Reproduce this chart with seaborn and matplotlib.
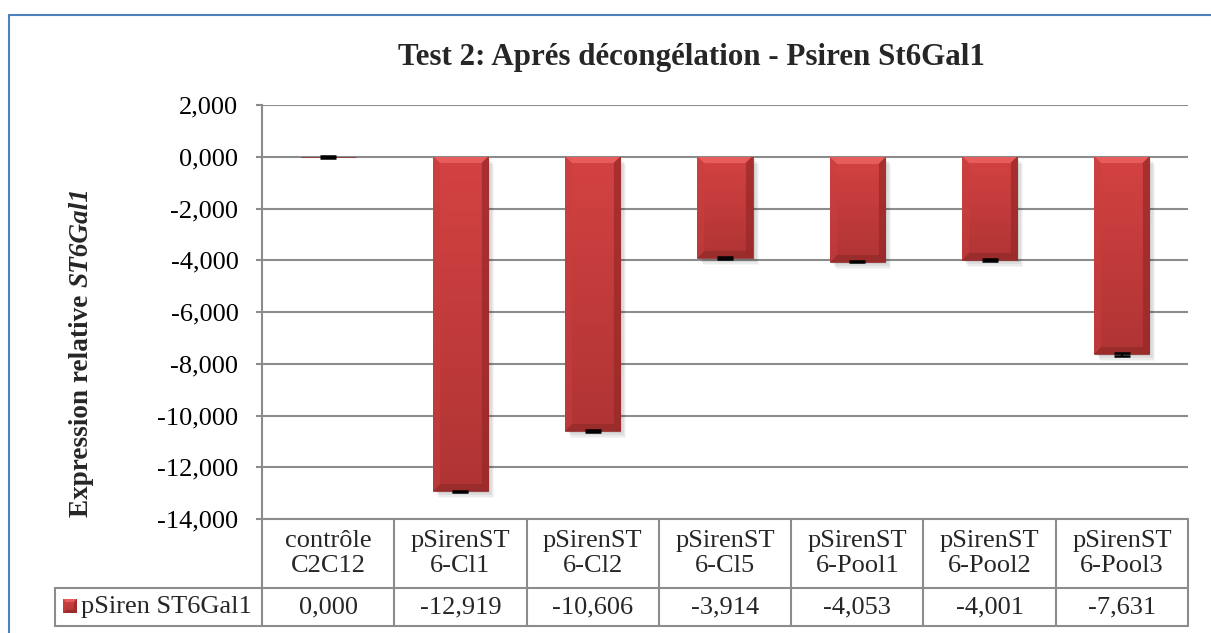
import numpy as np
import pandas as pd
import seaborn as sns
import matplotlib
matplotlib.use("Agg")
import matplotlib.pyplot as plt
from matplotlib import transforms
from matplotlib.lines import Line2D
from matplotlib.patches import Rectangle

# ---- data ----
categories = ["contrôle\nC2C12", "pSirenST\n6-Cl1", "pSirenST\n6-Cl2", "pSirenST\n6-Cl5",
              "pSirenST\n6-Pool1", "pSirenST\n6-Pool2", "pSirenST\n6-Pool3"]
values = [0.000, -12.919, -10.606, -3.914, -4.053, -4.001, -7.631]
errors = [0.04, 0.02, 0.05, 0.03, 0.03, 0.03, 0.06]
series_name = "pSiren ST6Gal1"
y_ticks = [2, 0, -2, -4, -6, -8, -10, -12, -14]
title = "Test 2: Aprés décongélation - Psiren St6Gal1"


def fr_num(v):
    return f"{v:.3f}".replace(".", ",")


def bevel_image(nx, ny, bevel=7):
    """RGB array of a bevelled bar face, nx by ny pixels, top at row 0."""
    r = np.arange(ny)[:, None] * np.ones((1, nx))
    c = np.ones((ny, 1)) * np.arange(nx)[None, :]
    dt, db, dl, dr = r, ny - 1 - r, c, nx - 1 - c
    t = (r / max(ny - 1, 1))[..., None]
    body_top = np.array([212, 66, 66]) / 255
    body_bot = np.array([176, 52, 52]) / 255
    img = body_top * (1 - t) + body_bot * t
    dmin = np.minimum.reduce([dt, db, dl, dr])
    faces = [(dt, np.array([234, 96, 96]) / 255, 0.9),
             (db, np.array([150, 42, 42]) / 255, 0.8),
             (dl, np.array([200, 62, 62]) / 255, 0.5),
             (dr, np.array([150, 40, 40]) / 255, 0.7)]
    for d, col, a in faces:
        m = (d == dmin) & (d < bevel)
        img[m] = img[m] * (1 - a) + col * a
    return np.clip(img, 0, 1)


sns.set_theme(style="white")
plt.rcParams["font.family"] = ["Liberation Serif", "DejaVu Serif"]

W, H = 1211, 633
fig = plt.figure(figsize=(W / 100, H / 100), dpi=100)
fig.patch.set_facecolor("white")

ax_left, ax_right, ax_top, ax_bottom = 262, 1188, 105, 519
ax = fig.add_axes([ax_left / W, 1 - ax_bottom / H, (ax_right - ax_left) / W, (ax_bottom - ax_top) / H])

df = pd.DataFrame({"category": categories, "value": values})
sns.barplot(data=df, x="category", y="value", ax=ax, color="#C83C3C",
            width=0.416, errorbar=None, saturation=1, zorder=3,
            edgecolor="#8A2A2A", linewidth=0.5)

ax.set_ylim(-14, 2)
ax.set_xlim(-0.5, len(categories) - 0.5)

grid_col = "#8C8C8C"
ax.set_yticks(y_ticks)
ax.set_yticklabels([fr_num(v) for v in y_ticks], fontsize=19, color="black")
ax.tick_params(axis="y", length=4, width=1.5, color=grid_col, pad=13, left=True)
ax.set_xticks([])
ax.set_xlabel("")
ax.set_ylabel("")
ax.grid(axis="y", color=grid_col, lw=1.5)
ax.set_axisbelow(True)
for s in ["top", "right", "bottom"]:
    ax.spines[s].set_visible(False)
ax.spines["left"].set_color(grid_col)
ax.spines["left"].set_linewidth(1.5)

# bevelled fill and soft drop shadow for each bar
fig.canvas.draw()
bars = [p for p in ax.patches]
for p in bars:
    x0, y0 = p.get_x(), p.get_y()
    w, h = p.get_width(), p.get_height()
    if abs(h) < 1e-9:
        continue
    for dx, dy, a in [(6, -7, 0.035), (5, -6, 0.045), (4, -4, 0.06), (2, -2, 0.07)]:
        tr = transforms.offset_copy(ax.transData, fig=fig, x=dx, y=dy, units="dots")
        ax.add_patch(Rectangle((x0, y0), w, h, transform=tr, facecolor="black",
                               alpha=a, lw=0, zorder=2.5))
    bb = p.get_window_extent()
    nx, ny = max(int(round(bb.width)), 2), max(int(round(bb.height)), 2)
    img = bevel_image(nx, ny)
    top, bot = max(y0, y0 + h), min(y0, y0 + h)
    im = ax.imshow(img, extent=(x0, x0 + w, bot, top), aspect="auto",
                   origin="upper", zorder=3.1, interpolation="bilinear")
    im.set_clip_path(p)
ax.set_ylim(-14, 2)
ax.set_xlim(-0.5, len(categories) - 0.5)

# error bars
ax.errorbar(range(len(values)), values, yerr=errors, fmt="none", ecolor="black",
            elinewidth=1.5, capsize=6, capthick=1.8, zorder=4)

# ---- data table beneath the plot ----
tbl = transforms.blended_transform_factory(ax.transData, ax.transAxes)
axh = ax_bottom - ax_top
row1 = -(588 - ax_bottom) / axh
row2 = -(626 - ax_bottom) / axh
lc = dict(color=grid_col, lw=1.5, clip_on=False, zorder=5)
n = len(categories)
for yy in [0, row1, row2]:
    fig.add_artist(Line2D([-0.5, n - 0.5], [yy, yy], transform=tbl, **lc))
for i in range(n + 1):
    fig.add_artist(Line2D([i - 0.5, i - 0.5], [0, row2], transform=tbl, **lc))
for i, (c, v) in enumerate(zip(categories, values)):
    ax.text(i, row1 / 2, c, transform=tbl, ha="center", va="center", fontsize=19,
            linespacing=1.15, clip_on=False)
    ax.text(i, (row1 + row2) / 2, fr_num(v), transform=tbl, ha="center", va="center",
            fontsize=19, clip_on=False)

# legend key cell
f = lambda px, py: (px / W, 1 - py / H)
cell_l = 55
for (xa, ya), (xb, yb) in [((cell_l, 588), (ax_left, 588)), ((cell_l, 626), (ax_left, 626)),
                           ((cell_l, 588), (cell_l, 626))]:
    p1, p2 = f(xa, ya), f(xb, yb)
    fig.add_artist(Line2D([p1[0], p2[0]], [p1[1], p2[1]], transform=fig.transFigure, **lc))
key_x, key_y = f(63, 613)
key = fig.add_axes([key_x, key_y, 14 / W, 14 / H])
key.imshow(bevel_image(14, 14, bevel=3), aspect="auto", interpolation="nearest")
key.set_axis_off()
tx, ty = f(81, 607)
fig.text(tx, ty, series_name, ha="left", va="center", fontsize=19)

# ---- title ----
tx, ty = f(691, 58)
fig.text(tx, ty, title, ha="center", va="center", fontsize=22.3, weight="bold")

# ---- y axis label: plain part then italic gene name ----
r = fig.canvas.get_renderer()
lx = 81 / W
t1 = fig.text(lx, 0, "Expression relative\u00a0", rotation=90, rotation_mode="anchor",
              ha="left", va="center", fontsize=19.6, weight="bold")
t2 = fig.text(lx, 0, "ST6Gal1", rotation=90, rotation_mode="anchor",
              ha="left", va="center", fontsize=19.6, weight="bold", style="italic")
h1 = t1.get_window_extent(r).height
h2 = t2.get_window_extent(r).height
center_px = H - 352
start = center_px - (h1 + h2) / 2
t1.set_position((lx, start / H))
t2.set_position((lx, (start + h1) / H))

# ---- outer frame ----
bl = "#4F81BD"
fig.add_artist(Line2D([9 / W, 1.01], [1 - 15 / H, 1 - 15 / H], transform=fig.transFigure,
                      color=bl, lw=1.5))
fig.add_artist(Line2D([9 / W, 9 / W], [1 - 15 / H, -0.01], transform=fig.transFigure,
                      color=bl, lw=1.5))

fig.savefig("out.png", dpi=100, facecolor="white")
